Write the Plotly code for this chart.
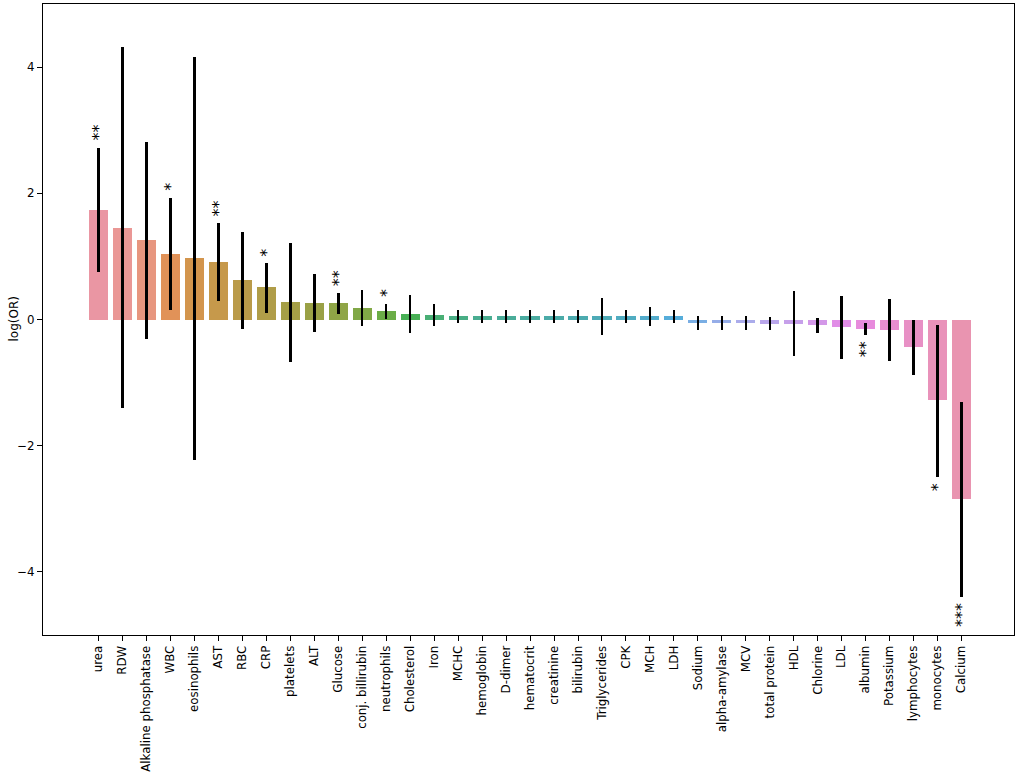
import math
import colorsys
import plotly.graph_objects as go

# Data for the chart (log odds ratio with 95% CI, sorted)
markers = ["urea", "RDW", "Alkaline phosphatase", "WBC", "eosinophils", "AST", "RBC", "CRP",
           "platelets", "ALT", "Glucose", "conj. billirubin", "neutrophils", "Cholesterol",
           "Iron", "MCHC", "hemoglobin", "D-dimer", "hematocrit", "creatinine", "bilirubin",
           "Triglycerides", "CPK", "MCH", "LDH", "Sodium", "alpha-amylase", "MCV",
           "total protein", "HDL", "Chlorine", "LDL", "albumin", "Potassium", "lymphocytes",
           "monocytes", "Calcium"]
log_or = [1.74, 1.45, 1.26, 1.04, 0.97, 0.91, 0.62, 0.51, 0.28, 0.26, 0.26, 0.19, 0.13, 0.085,
          0.07, 0.05, 0.05, 0.05, 0.05, 0.05, 0.05, 0.05, 0.05, 0.05, 0.05, -0.05, -0.05, -0.05,
          -0.065, -0.065, -0.09, -0.12, -0.15, -0.16, -0.43, -1.27, -2.84]
ci_low = [0.76, -1.41, -0.31, 0.15, -2.22, 0.30, -0.15, 0.11, -0.67, -0.20, 0.09, -0.10, 0.01,
          -0.21, -0.10, -0.05, -0.05, -0.05, -0.05, -0.05, -0.05, -0.25, -0.05, -0.10, -0.05,
          -0.16, -0.16, -0.16, -0.17, -0.58, -0.21, -0.63, -0.24, -0.66, -0.88, -2.49, -4.39]
ci_high = [2.72, 4.32, 2.82, 1.92, 4.16, 1.53, 1.39, 0.89, 1.22, 0.72, 0.42, 0.47, 0.25, 0.39,
           0.24, 0.15, 0.15, 0.15, 0.15, 0.15, 0.15, 0.34, 0.15, 0.20, 0.15, 0.05, 0.05, 0.05,
           0.04, 0.45, 0.03, 0.38, -0.05, 0.33, 0.0, -0.08, -1.30]
stars = ["**", "", "", "*", "", "**", "", "*", "", "", "**", "", "*", "", "", "", "", "", "",
         "", "", "", "", "", "", "", "", "", "", "", "", "", "**", "", "", "*", "***"]
y_ticks = [-4, -2, 0, 2, 4]


# seaborn-style husl palette (l=.7) with 0.75 saturation
M = [[3.2406, -1.5372, -0.4986], [-0.9689, 1.8758, 0.0415], [0.0557, -0.2040, 1.0570]]


def max_chroma(L, H):
    hrad = math.radians(H)
    sinH, cosH = math.sin(hrad), math.cos(hrad)
    sub1 = (L + 16) ** 3 / 1560896.0
    sub2 = sub1 if sub1 > 0.008856 else L / 903.3
    result = float("inf")
    for m1, m2, m3 in M:
        top = (0.99915 * m1 + 1.05122 * m2 + 1.14460 * m3) * sub2
        rbottom = 0.86330 * m3 - 0.17266 * m2
        lbottom = 0.12949 * m3 - 0.38848 * m1
        bottom = (rbottom * sinH + lbottom * cosH) * sub2
        for t in (0.0, 1.0):
            C = L * (top - 1.05122 * t) / (bottom + 0.17266 * sinH * t)
            if 0.0 < C < result:
                result = C
    return result


def husl_to_rgb(H, S, L):
    C = max_chroma(L, H) / 100.0 * S
    U = math.cos(math.radians(H)) * C
    V = math.sin(math.radians(H)) * C
    t = (L + 16.0) / 116.0
    Y = t ** 3 if t ** 3 > 0.008856 else (116.0 * t - 16.0) / 903.3
    varU = U / (13.0 * L) + 0.19784
    varV = V / (13.0 * L) + 0.46834
    X = -(9.0 * Y * varU) / ((varU - 4.0) * varV - varU * varV)
    Z = (9.0 * Y - 15.0 * varV * Y - varV * X) / (3.0 * varV)
    out = []
    for row in M:
        c = row[0] * X + row[1] * Y + row[2] * Z
        c = 12.92 * c if c <= 0.0031308 else 1.055 * c ** (1 / 2.4) - 0.055
        out.append(min(max(c, 0.0), 1.0))
    return out


def palette(n):
    cols = []
    for i in range(n):
        h = ((i / n + 0.01) % 1) * 359
        r, g, b = husl_to_rgb(h, 0.9 * 99, 0.7 * 99)
        hh, ll, ss = colorsys.rgb_to_hls(r, g, b)
        r, g, b = colorsys.hls_to_rgb(hh, ll, ss * 0.75)
        cols.append("rgb(%d,%d,%d)" % (round(r * 255), round(g * 255), round(b * 255)))
    return cols


colors = palette(len(markers))
idx = list(range(len(markers)))

fig = go.Figure()
fig.add_trace(go.Bar(
    x=idx,
    y=log_or,
    width=0.8,
    marker=dict(color=colors, line=dict(width=0)),
    error_y=dict(
        type="data",
        symmetric=False,
        array=[h - v for h, v in zip(ci_high, log_or)],
        arrayminus=[v - l for v, l in zip(log_or, ci_low)],
        color="black",
        thickness=2.4,
        width=0,
    ),
    showlegend=False,
))

# significance stars beyond the CI end
for i, s in enumerate(stars):
    if not s:
        continue
    up = log_or[i] >= 0
    fig.add_annotation(
        x=i, y=ci_high[i] if up else ci_low[i],
        text=s, showarrow=False, textangle=-90,
        yanchor="bottom" if up else "top",
        yshift=5 if up else -5,
        font=dict(family="DejaVu Sans", size=16, color="black"),
    )

# y axis title placed like matplotlib's
fig.add_annotation(
    xref="paper", yref="paper", x=-30 / 971, y=0.5,
    text="log(OR)", showarrow=False, textangle=-90,
    xanchor="center", yanchor="middle",
    font=dict(family="DejaVu Sans", size=12, color="black"),
)

fig.update_layout(
    width=1020, height=772,
    margin=dict(l=43, r=6, t=4, b=137),
    plot_bgcolor="white", paper_bgcolor="white",
    font=dict(family="DejaVu Sans", size=11.8, color="black"),
    bargap=0,
)
fig.update_xaxes(
    range=[-2.32, 38.19], tickmode="array", tickvals=idx, ticktext=markers,
    tickangle=-90, ticks="outside", ticklen=5, tickcolor="black",
    showgrid=False, zeroline=False, automargin=False,
    showline=True, linecolor="black", linewidth=1, mirror=True,
)
fig.update_yaxes(
    range=[-5, 5], tickvals=y_ticks, ticks="outside", ticklen=5, tickcolor="black",
    showgrid=False, zeroline=False, automargin=False,
    showline=True, linecolor="black", linewidth=1, mirror=True,
)

# drop the page's default body margin so the figure sits at the window corner
fig.write_html("out.html", config={"displayModeBar": False},
               post_script="document.body.style.margin='0';")
